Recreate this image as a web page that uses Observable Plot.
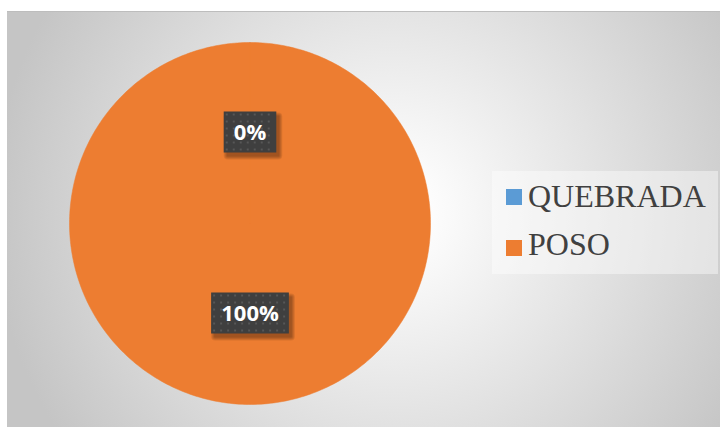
<!DOCTYPE html>
<html>
<head>
<meta charset="utf-8">
<script src="https://cdn.jsdelivr.net/npm/d3@7"></script>
<script src="https://cdn.jsdelivr.net/npm/@observablehq/plot@0.6"></script>
<style>
  html, body { margin: 0; padding: 0; background: #ffffff; }
  #wrap { position: relative; width: 720px; height: 427px; overflow: hidden; background: #fff; }
  #bg { position: absolute; left: 7px; top: 11px; right: 0; bottom: 0;
        background: radial-gradient(circle 400px at 385px 200px, #ffffff 6%, #c5c5c5 100%);
        border-top: 1px solid #bdbdbd; box-sizing: border-box; }
  #chart { position: absolute; left: 0; top: 0; }
  #legend { position: absolute; left: 492px; top: 171px; width: 226px; height: 103px;
            background: rgba(255,255,255,0.42); }
  .sw { position: absolute; width: 16px; height: 16px; left: 14px; }
  .lt { position: absolute; left: 36px; font-family: "Liberation Serif", "Times New Roman", serif;
        font-size: 32px; line-height: 32px; color: #404040; white-space: nowrap; }
</style>
</head>
<body>
<div id="wrap">
  <div id="bg"></div>
  <div id="chart"></div>
  <div id="legend"></div>
</div>
<script>
// ---- data ----
const categories = ["QUEBRADA", "POSO"];
const values = [0, 100];
const labels = ["0%", "100%"];
const colors = ["#5B9BD5", "#ED7D31"];

// ---- pie geometry (unit circle, computed from data) ----
const arcs = d3.pie().sort(null)(values);
const slicePts = [];
arcs.forEach((a, i) => {
  const n = Math.max(2, Math.ceil((a.endAngle - a.startAngle) / (2 * Math.PI) * 360));
  slicePts.push({cat: categories[i], px: 0, py: 0});
  for (let k = 0; k <= n; k++) {
    const t = a.startAngle + (a.endAngle - a.startAngle) * k / n;
    slicePts.push({cat: categories[i], px: Math.sin(t), py: Math.cos(t)});
  }
  slicePts.push({cat: categories[i], px: 0, py: 0});
});
const labelPts = arcs.map((a, i) => {
  const m = (a.startAngle + a.endAngle) / 2;
  return {label: labels[i], px: 0.5 * Math.sin(m), py: 0.5 * Math.cos(m)};
});

const plot = Plot.plot({
  width: 720,
  height: 427,
  margin: 0,
  style: {background: "transparent"},
  x: {domain: [-1, 1], range: [69, 430], axis: null},
  y: {domain: [-1, 1], range: [404, 42], axis: null},
  color: {domain: categories, range: colors},
  marks: [
    Plot.line(slicePts, {x: "px", y: "py", z: "cat", fill: "cat", stroke: "cat", strokeWidth: 0.5}),
    Plot.text(labelPts, {x: "px", y: "py", text: "label", fill: "white", fontSize: 22,
      fontWeight: "bold", fontFamily: "'Open Sans', 'DejaVu Sans', sans-serif"})
  ]
});
document.getElementById("chart").appendChild(plot);

// label boxes placed through the plot's own scales
const sx = plot.scale("x"), sy = plot.scale("y");
const svg = d3.select(plot);
const textNodes = svg.selectAll("text").nodes();
if (textNodes.length) {
  const labelG = d3.select(textNodes[0].parentNode);
  const boxLayer = labelG.insert("g", ":first-child");
  textNodes.forEach((node, i) => {
    const d = labelPts[i];
    if (!d) return;
    const bw = node.getBBox().width;
    const cx = sx.apply(d.px), cy = sy.apply(d.py);
    const w = bw + 20, h = 41;
    const x0 = cx - w / 2, y0 = cy - 1 - h / 2;
    for (let s = 4; s >= 1; s--) {
      boxLayer.append("rect")
        .attr("x", x0 + 3 - s + 1).attr("y", y0 + 4 - s + 1)
        .attr("width", w + 2 * s - 2).attr("height", h + 2 * s - 2)
        .attr("rx", s).attr("fill", "#000").attr("fill-opacity", 0.09);
    }
    boxLayer.append("rect").attr("x", x0).attr("y", y0).attr("width", w).attr("height", h).attr("fill", "#3f3f3f");
    for (let yy = y0 + 2; yy + 2 <= y0 + h; yy += 7) {
      for (let xx = x0 + 2; xx + 2 <= x0 + w; xx += 7) {
        boxLayer.append("rect").attr("x", xx).attr("y", yy).attr("width", 2).attr("height", 2).attr("fill", "#575757");
      }
    }
  });
}

// legend
const legend = document.getElementById("legend");
categories.forEach((c, i) => {
  const sw = document.createElement("div");
  sw.className = "sw";
  sw.style.top = (18 + i * 51) + "px";
  sw.style.background = colors[i];
  legend.appendChild(sw);
  const lt = document.createElement("div");
  lt.className = "lt";
  lt.style.top = (9 + i * 48) + "px";
  lt.textContent = c;
  legend.appendChild(lt);
});
</script>
</body>
</html>
